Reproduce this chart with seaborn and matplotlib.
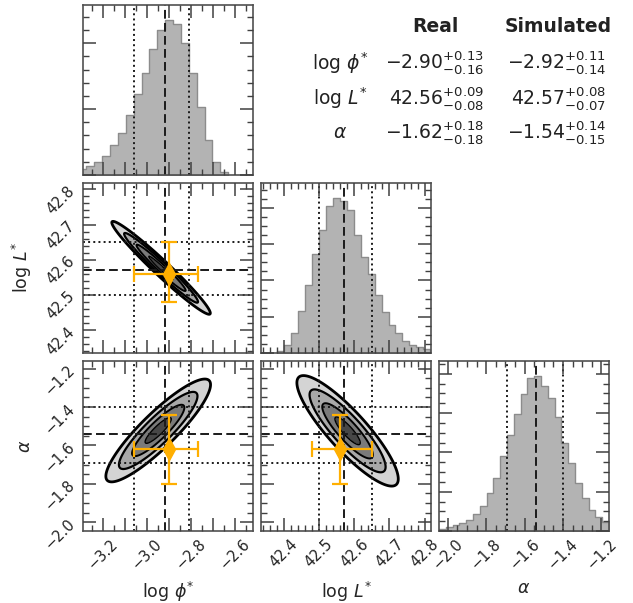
import numpy as np
import pandas as pd
import matplotlib
matplotlib.use("Agg")
import matplotlib.pyplot as plt
from matplotlib.ticker import MultipleLocator, FuncFormatter
import seaborn as sns

# luminosity function parameters
axis_labels = [r"$\log\,\phi^{*}$", r"$\log\,L^{*}$", r"$\alpha$"]

# summary table: Real (orange point) and Simulated (lines, hists, contours)
real_med = [-2.90, 42.56, -1.62]
real_hi = [0.13, 0.09, 0.18]
real_lo = [0.16, 0.08, 0.18]
sim_med = [-2.92, 42.57, -1.54]
sim_hi = [0.11, 0.08, 0.14]
sim_lo = [0.14, 0.07, 0.15]

# axis ranges per parameter
ranges = [(-3.292, -2.519), (42.335, 42.818), (-2.046, -1.160)]

# 1-D histograms (first bin edge, bin width, counts)
phi_start, phi_width = -3.312, 0.0358
phi_counts = [90, 130, 195, 295, 460, 640, 915, 1235, 1550, 1910, 2195,
              2345, 2295, 2010, 1550, 1025, 525, 195, 40]
L_start, L_width = 42.381, 0.01977
L_counts = [6, 23, 56, 115, 187, 272, 340, 405, 426, 420, 393, 326, 266,
            217, 159, 113, 78, 56, 34, 23, 16, 11]
alpha_start, alpha_width = -2.046, 0.03544
alpha_counts = [4, 9, 15, 21, 27, 44, 63, 96, 134, 190, 243, 297, 348, 388,
                393, 368, 339, 291, 224, 173, 121, 83, 53, 36, 23]
hists = [(phi_start, phi_width, phi_counts),
         (L_start, L_width, L_counts),
         (alpha_start, alpha_width, alpha_counts)]

# 2-D posteriors: (x param, y param), centre, spread, correlation
pairs = [(0, 1), (0, 2), (1, 2)]
pair_center = [(-2.937, 42.577), (-2.950, -1.522), (42.581, -1.524)]
pair_sigma = [(0.112, 0.066), (0.119, 0.134), (0.072, 0.144)]
pair_rho = [-0.975, 0.89, -0.87]
sigma_levels = [0.5, 1.0, 1.5, 2.0]

# tick spacing (labels on every `label_every`-th major tick)
major_step = [0.1, 0.1, 0.2]
minor_step = [0.05, 0.02, 0.05]
label_every = [2, 1, 1]
hist_major = [1000, 100, 100]
hist_minor = [200, 25, 25]

orange = "#ffaf00"
fill_cols = ["#474747", "#7a7a7a", "#a8a8a8", "#d4d4d4"]

sns.set_style("ticks")
plt.rcParams.update({
    "font.family": ["DejaVu Sans"],
    "mathtext.fontset": "dejavusans",
    "axes.edgecolor": "#505050", "axes.linewidth": 1.2,
    "xtick.labelsize": 10.5, "ytick.labelsize": 10.5,
    "xtick.major.pad": 4, "ytick.major.pad": 4,
})

fig, axes = plt.subplots(3, 3, figsize=(6.33, 6.03), dpi=100)
fig.subplots_adjust(left=0.1311, right=0.9621, bottom=0.1194, top=0.9917,
                    wspace=0.047, hspace=0.047)


def quantile_lines(ax, k, vertical=True):
    line = ax.axvline if vertical else ax.axhline
    line(sim_med[k], color="#1a1a1a", ls=(0, (4.5, 2.2)), lw=1.4)
    line(sim_med[k] - sim_lo[k], color="#1a1a1a", ls=":", lw=1.4)
    line(sim_med[k] + sim_hi[k], color="#1a1a1a", ls=":", lw=1.4)


def set_locators(axis, k):
    axis.set_major_locator(MultipleLocator(major_step[k]))
    axis.set_minor_locator(MultipleLocator(minor_step[k]))
    n = label_every[k]
    axis.set_major_formatter(FuncFormatter(
        lambda v, p, s=major_step[k], n=n:
        f"{v:.1f}".replace("-", "\u2212") if round(v / s) % n == 0 else ""))


# diagonal: histograms
for k in range(3):
    ax = axes[k, k]
    start, width, counts = hists[k]
    edges = start + width * np.arange(len(counts) + 1)
    df = pd.DataFrame({"x": edges[:-1] + width / 2, "n": counts})
    sns.histplot(data=df, x="x", weights="n", bins=list(edges), element="step",
                 fill=True, color="#b3b3b3", edgecolor="#8c8c8c", alpha=1,
                 linewidth=1.0, ax=ax)
    quantile_lines(ax, k)
    ax.set_xlim(ranges[k])
    ax.set_ylim(0, 1.1 * max(counts))
    ax.yaxis.set_major_locator(MultipleLocator(hist_major[k]))
    ax.yaxis.set_minor_locator(MultipleLocator(hist_minor[k]))
    ax.set_ylabel("")
    ax.set_xlabel("")

# lower triangle: contours
for (j, i), (cx, cy), (sx, sy), rho in zip(pairs, pair_center, pair_sigma, pair_rho):
    ax = axes[i, j]
    gx = np.linspace(*ranges[j], 400)
    gy = np.linspace(*ranges[i], 400)
    X, Y = np.meshgrid(gx, gy)
    u = (X - cx) / sx
    v = (Y - cy) / sy
    d2 = (u ** 2 - 2 * rho * u * v + v ** 2) / (1 - rho ** 2)
    lev = [0] + [s ** 2 for s in sigma_levels]
    ax.contourf(X, Y, d2, levels=lev, colors=fill_cols)
    ax.contour(X, Y, d2, levels=lev[1:], colors="k",
               linewidths=[1.0, 1.4, 1.6, 2.0])
    quantile_lines(ax, j, vertical=True)
    quantile_lines(ax, i, vertical=False)
    ax.errorbar(real_med[j], real_med[i],
                xerr=[[real_lo[j]], [real_hi[j]]],
                yerr=[[real_lo[i]], [real_hi[i]]],
                fmt="d", color=orange, ms=11, elinewidth=1.6,
                capsize=6, capthick=1.6, zorder=10)
    ax.set_xlim(ranges[j])
    ax.set_ylim(ranges[i])
    set_locators(ax.yaxis, i)

for i in range(3):
    for j in range(3):
        ax = axes[i, j]
        if j > i:
            ax.axis("off")
            continue
        set_locators(ax.xaxis, j)
        for sp in ax.spines.values():
            sp.set_visible(True)
        ax.tick_params(which="both", direction="in", top=True, right=True,
                       bottom=True, left=True, color="#404040",
                       labelcolor="#222222", zorder=5)
        ax.tick_params(which="major", length=9.5, width=1.1)
        ax.tick_params(which="minor", length=4.2, width=1.0)
        ax.set_axisbelow(False)
        if i == 2:
            ax.tick_params(axis="x", labelrotation=45)
            ax.set_xlabel(axis_labels[j], fontsize=12.5)
            ax.xaxis.set_label_coords(0.5, -0.285)
        else:
            ax.tick_params(axis="x", which="both", labelbottom=False)
        if j == 0 and i > 0:
            ax.tick_params(axis="y", labelrotation=45)
            ax.set_ylabel(axis_labels[i], fontsize=12.5)
            ax.yaxis.set_label_coords(-0.29, 0.5)
        else:
            ax.tick_params(axis="y", which="both", labelleft=False)

# summary table
W, H = 633, 603
fig.text(435 / W, 1 - 27 / H, "Real", ha="center", va="center",
         fontsize=13.5, fontweight="bold", color="#222222")
fig.text(558 / W, 1 - 27 / H, "Simulated", ha="center", va="center",
         fontsize=13.5, fontweight="bold", color="#222222")
for k, y in enumerate([63, 98, 133]):
    fig.text(340 / W, 1 - y / H, axis_labels[k], ha="center", va="center",
             fontsize=13.5, color="#222222")
    fig.text(484 / W, 1 - y / H,
             rf"${real_med[k]:.2f}^{{+{real_hi[k]:.2f}}}_{{-{real_lo[k]:.2f}}}$",
             ha="right", va="center", fontsize=13.5, color="#222222")
    fig.text(606 / W, 1 - y / H,
             rf"${sim_med[k]:.2f}^{{+{sim_hi[k]:.2f}}}_{{-{sim_lo[k]:.2f}}}$",
             ha="right", va="center", fontsize=13.5, color="#222222")

fig.savefig("out.png", dpi=100)
